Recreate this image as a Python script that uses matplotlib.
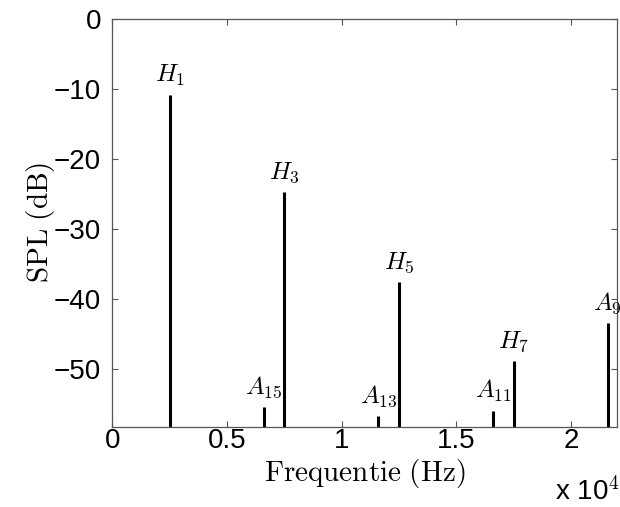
import numpy as np
import matplotlib
matplotlib.use("Agg")
import matplotlib.pyplot as plt

plt.rcParams['mathtext.fontset'] = 'cm'
plt.rcParams['font.family'] = ['Liberation Sans', 'DejaVu Sans']

# peak frequencies (Hz) and levels (dB)
freqs = [2500, 6600, 7500, 11600, 12500, 16600, 17500, 21600]
levels = [-10.9, -55.5, -24.8, -56.8, -37.6, -56.0, -48.9, -43.5]
labels = [r'$H_1$', r'$A_{15}$', r'$H_3$', r'$A_{13}$', r'$H_5$', r'$A_{11}$', r'$H_7$', r'$A_9$']

xticks = [0, 5000, 10000, 15000, 20000]
xticklabels = ['0', '0.5', '1', '1.5', '2']
yticks = [0, -10, -20, -30, -40, -50]
yticklabels = ['0', '\u221210', '\u221220', '\u221230', '\u221240', '\u221250']

ybottom = -58.3

fig = plt.figure(figsize=(6.2, 5.07), dpi=100)
ax = fig.add_axes([0.181, 0.158, 0.814, 0.805])

ax.vlines(freqs, ybottom, levels, colors='black', linewidth=2.2)

for f, l, lab in zip(freqs, levels, labels):
    ax.annotate(lab, (f, l), xytext=(0, 5), textcoords='offset points',
                ha='center', va='bottom', fontsize=18, annotation_clip=False)

ax.set_xlim(0, 22000)
ax.set_ylim(ybottom, 0)
ax.set_xticks(xticks)
ax.set_xticklabels(xticklabels)
ax.set_yticks(yticks)
ax.set_yticklabels(yticklabels)
ax.tick_params(direction='in', top=True, right=True, labelsize=20, length=4,
               color='#555555')
ax.tick_params(axis='x', pad=1)
ax.tick_params(axis='y', pad=8)
for s in ax.spines.values():
    s.set_color('#555555')
    s.set_linewidth(0.9)

ax.set_xlabel(r'$\mathrm{Frequentie\ (Hz)}$', fontsize=21, labelpad=2)
ax.set_ylabel(r'$\mathrm{SPL\ (dB)}$', fontsize=21, labelpad=-2)

fig.text(0.895, 0.002, 'x 10$^{\\mathsf{4}}$', fontsize=20, ha='left', va='bottom')

fig.savefig('out.png', dpi=100)
